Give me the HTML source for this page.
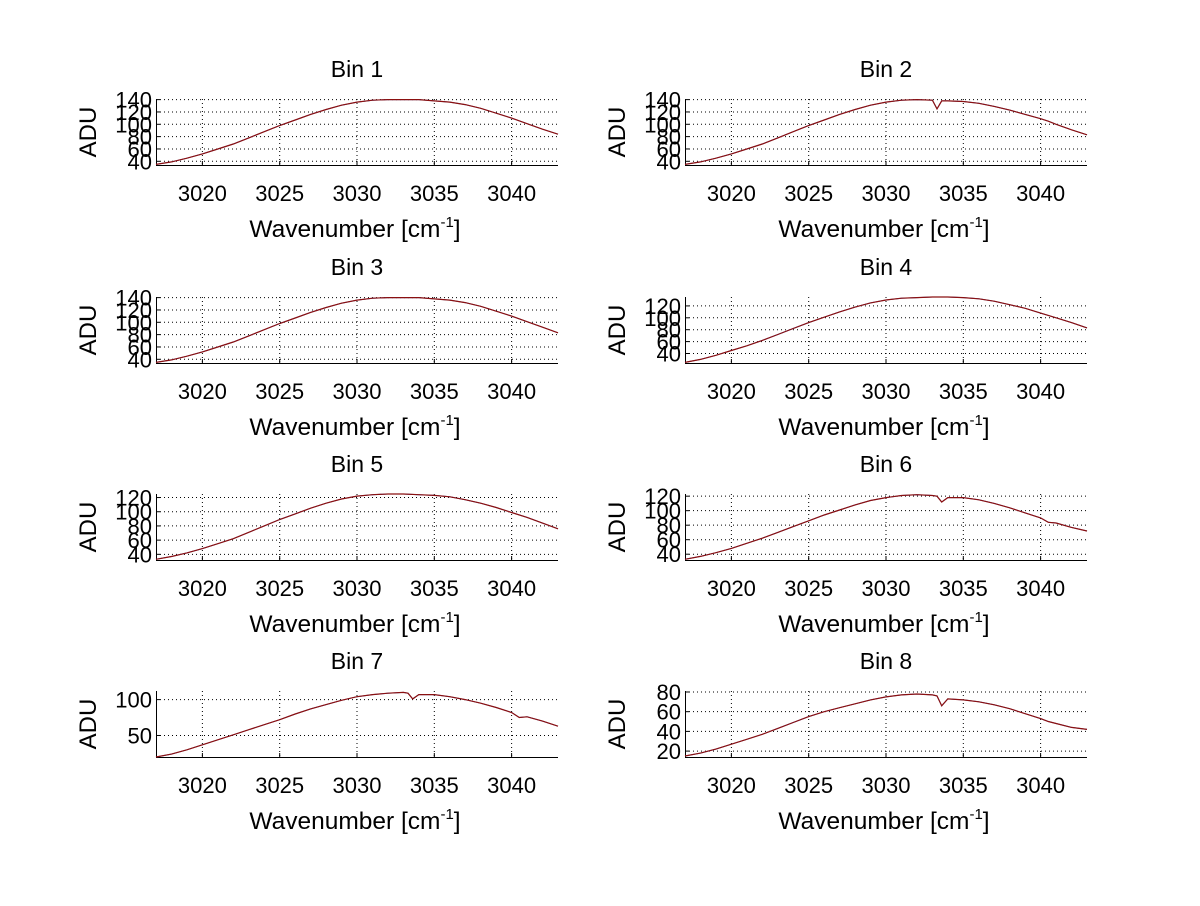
<!DOCTYPE html>
<html><head><meta charset="utf-8"><style>
body{margin:0;background:#fff;width:1200px;height:901px;overflow:hidden}
svg text{font-family:"Liberation Sans",sans-serif;fill:#000}
</style></head><body>
<svg id="fig" width="1200" height="901" xmlns="http://www.w3.org/2000/svg"></svg>
<script>
const xTicks=[3020,3025,3030,3035,3040];
const titles=["Bin 1","Bin 2","Bin 3","Bin 4","Bin 5","Bin 6","Bin 7","Bin 8"];
const yTicks=[[40,60,80,100,120,140],[40,60,80,100,120,140],[40,60,80,100,120,140],[40,60,80,100,120],[40,60,80,100,120],[40,60,80,100,120],[50,100],[20,40,60,80]];
const yMin=[34,34,34,24,32,32,20,14];
const yMax=[141,141,141,135,125,123,112,81];
const xBase=[3017,3018,3019,3020,3021,3022,3023,3024,3025,3026,3027,3028,3029,3030,3031,3032,3033,3034,3035,3036,3037,3038,3039,3040,3041,3042,3043];
const xDip=[3017,3018,3019,3020,3021,3022,3023,3024,3025,3026,3027,3028,3029,3030,3031,3032,3033,3033.3,3033.6,3034,3035,3036,3037,3038,3039,3040,3040.5,3041,3042,3043];
const bin1=[35,39,45,52,60,68,78,88,98,107,116,124,131,136,139,140,140,140,138,136,132,126,118,110,101,92,84];
const bin2=[35,39,45,52,60,68,78,88,98,107,116,124,131,136,139,140,139,125,138,138,137,134,129,123,116,109,105,100,91,83];
const bin3=[35,39,45,52,60,68,78,88,98,107,116,124,131,136,139,140,140,140,138,136,132,126,118,110,101,92,83];
const bin4=[25,30,37,45,53,62,72,82,92,101,110,118,125,130,133,134,135,135,134,132,128,122,116,108,100,92,83];
const bin5=[33,37,42,48,55,62,71,80,89,97,105,112,118,122,124,125,125,124,123,121,117,112,106,99,92,84,76];
const bin6=[33,37,42,48,55,62,70,78,86,94,101,108,114,118,121,122,121,120,112,118,118,115,110,104,97,90,84,83,77,72];
const bin7=[20,24,30,37,44,51,58,65,72,80,87,93,99,104,107,109,110,109,101,107,107,104,100,95,89,82,75,76,70,63];
const bin8=[15,18,22,27,32,37,43,49,55,60,64,68,72,75,77,78,77,76,66,73,72,70,67,63,58,53,50,48,44,42];
const series=[bin1,bin2,bin3,bin4,bin5,bin6,bin7,bin8];
const xsOf=[xBase,xDip,xBase,xBase,xBase,xDip,xDip,xDip];
const NS="http://www.w3.org/2000/svg";
const svg=document.getElementById('fig');
function mk(tag,attrs,parent){const e=document.createElementNS(NS,tag);for(const k in attrs)e.setAttribute(k,attrs[k]);(parent||svg).appendChild(e);return e;}
const colL=[156,685],W=402,tops=[99,297,494,691],H=66,xMin=3017,xMax=3043;
for(let i=0;i<8;i++){
  const L=colL[i%2],T=tops[Math.floor(i/2)];
  const g=mk('g',{});
  
  
  const sx=v=>L+(v-xMin)/(xMax-xMin)*W;
  const sy=v=>T+H-(v-yMin[i])/(yMax[i]-yMin[i])*H;
  xTicks.forEach(t=>{
    const gl=mk('line',{x1:sx(t),x2:sx(t),y1:T,y2:T+H,stroke:'#000','stroke-width':1,'stroke-dasharray':'1,3'},g);
    
    
    mk('line',{x1:sx(t),x2:sx(t),y1:T+H,y2:T+H-4,stroke:'#000'},g);
    const tx=mk('text',{x:sx(t),y:T+H+36,'font-size':22,'text-anchor':'middle'},g);
    tx.textContent=t;
    
    
  });
  yTicks[i].forEach(t=>{
    const gl=mk('line',{x1:L,x2:L+W,y1:sy(t),y2:sy(t),stroke:'#000','stroke-width':1,'stroke-dasharray':'1,3'},g);
    
    
    mk('line',{x1:L,x2:L+4,y1:sy(t),y2:sy(t),stroke:'#000'},g);
    const tx=mk('text',{x:L-4,y:sy(t)+8,'font-size':22,'text-anchor':'end'},g);
    tx.textContent=t;
    
    
  });
  mk('line',{x1:L,x2:L+W,y1:T+H+0.5,y2:T+H+0.5,stroke:'#000'},g);
  mk('line',{x1:L+0.5,x2:L+0.5,y1:T,y2:T+H,stroke:'#000'},g);
  const xs=xsOf[i],ys=series[i];
  const pts=xs.map((x,j)=>sx(x).toFixed(1)+','+sy(ys[j]).toFixed(1)).join(' ');
  const pb=mk('polyline',{points:pts,fill:'none',stroke:'#3050c0','stroke-width':1},g);
  
  
  const pl=mk('polyline',{points:pts,fill:'none',stroke:'#8b1010','stroke-width':1.2},g);
  
  
  const ti=mk('text',{x:L+W/2,y:T-22,'font-size':23,'text-anchor':'middle'},g);
  ti.textContent=titles[i];
  
  
  const xl=mk('text',{x:L+W/2-2,y:T+H+72,'font-size':24.5,'text-anchor':'middle'},g);
  xl.innerHTML='Wavenumber [cm<tspan dy="-10" font-size="15">-1</tspan><tspan dy="10">]</tspan>';
  
  
  const yl=mk('text',{x:0,y:0,'font-size':24,'text-anchor':'middle',transform:`translate(${L-60},${T+H/2}) rotate(-90)`},g);
  yl.textContent='ADU';
  
  
}
</script>
</body></html>
